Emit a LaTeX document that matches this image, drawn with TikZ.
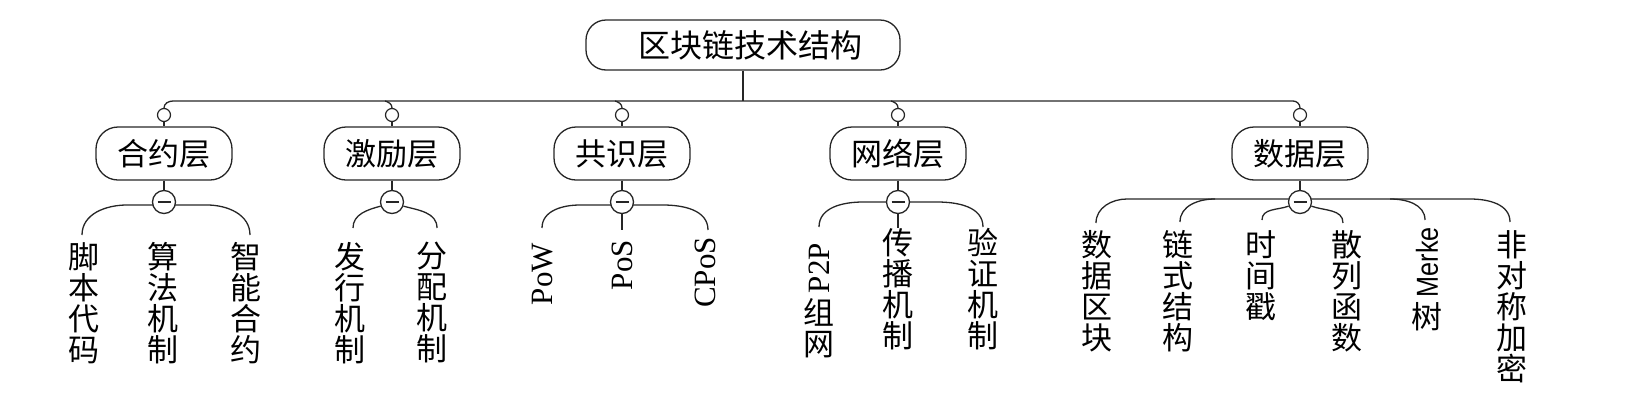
\documentclass[tikz,border=0pt]{standalone}
\usepackage{fontspec}
\usepackage{graphicx}
\setmainfont{Liberation Serif}
\newfontfamily\cjk{Noto Sans CJK SC}
\newfontfamily\lat{Liberation Serif}
\newfontfamily\arialf{Liberation Sans}
\usetikzlibrary{backgrounds}
\begin{document}
\begin{tikzpicture}[x=1pt,y=1pt,
  ln/.style={line width=1.3pt, draw=black!85},
  rootbox/.style={draw=black!85,line width=1.3pt,rounded corners=20pt,minimum width=314pt,minimum height=50pt,inner sep=0pt,font=\cjk\fontsize{32}{32}\selectfont},
  layerbox/.style={draw=black!85,line width=1.3pt,rounded corners=22pt,minimum width=136pt,minimum height=53pt,inner sep=0pt,font=\cjk\fontsize{31}{31}\selectfont},
  smallcirc/.style={circle,draw=black!85,line width=1.2pt,fill=white,minimum size=13pt,inner sep=0pt},
  minuscirc/.style={circle,draw=black!85,line width=1.3pt,fill=white,minimum size=23pt,inner sep=0pt,
    path picture={\draw[line width=1.8pt,black!85] ([xshift=-6.5pt]path picture bounding box.center) -- ([xshift=6.5pt]path picture bounding box.center);}},
  leaf/.style={anchor=north,align=center,inner sep=0pt,font=\cjk\fontsize{31}{31}\selectfont}
]
\useasboundingbox (0,0) rectangle (1630,-413);

% root
\node[rootbox] (root) at (743,-45) {\hspace*{15pt}区块链技术结构};

% small circles
\node[smallcirc] (s1) at (164,-115) {};
\node[smallcirc] (s2) at (392,-115) {};
\node[smallcirc] (s3) at (622,-115) {};
\node[smallcirc] (s4) at (898,-115) {};
\node[smallcirc] (s5) at (1300,-115) {};

% layers
\node[layerbox] (L1) at (164,-153.5) {合约层};
\node[layerbox] (L2) at (392,-153.5) {激励层};
\node[layerbox] (L3) at (622,-153.5) {共识层};
\node[layerbox] (L4) at (898,-153.5) {网络层};
\node[layerbox] (L5) at (1300,-153.5) {数据层};

% minus circles
\node[minuscirc] (m1) at (164,-202) {};
\node[minuscirc] (m2) at (392,-202) {};
\node[minuscirc] (m3) at (622,-202) {};
\node[minuscirc] (m4) at (898,-202) {};
\node[minuscirc] (m5) at (1300,-202) {};

% leaves
\node[leaf] (a1) at (84,-242) {脚\\本\\代\\码};
\node[leaf] (a2) at (163,-242) {算\\法\\机\\制};
\node[leaf] (a3) at (246,-242) {智\\能\\合\\约};
\node[leaf] (b1) at (350,-242) {发\\行\\机\\制};
\node[leaf] (b2) at (432,-242) {分\\配\\机\\制};
\node[leaf] (c1) at (543,-243) {\rotatebox{90}{\lat PoW}};
\node[leaf] (c2) at (622,-240) {\rotatebox{90}{\lat PoS}};
\node[leaf] (c3) at (705,-237) {\rotatebox{90}{\lat CPoS}};
\node[leaf] (d1) at (819,-243) {\rotatebox{90}{\lat P2P}\\组\\网};
\node[leaf] (d2) at (898,-228) {传\\播\\机\\制};
\node[leaf] (d3) at (983,-228) {验\\证\\机\\制};
\node[leaf] (e1) at (1097,-230) {数\\据\\区\\块};
\node[leaf] (e2) at (1178,-230) {链\\式\\结\\构};
\node[leaf] (e3) at (1261,-230) {时\\间\\戳};
\node[leaf] (e4) at (1347,-230) {散\\列\\函\\数};
\node[leaf] (e5) at (1427,-227) {\rotatebox{90}{\resizebox{70pt}{22pt}{\arialf Merke}}\\树};
\node[leaf] (e6) at (1512,-230) {非\\对\\称\\加\\密};

% free ends of connectors
\coordinate (barL) at (173,-101);
\coordinate (barR) at (1293,-101);
\coordinate (h2) at (385,-101);
\coordinate (h3) at (615,-101);
\coordinate (h4) at (891,-101);
\coordinate (a1t) at (82,-235);
\coordinate (a3t) at (250,-235);
\coordinate (b1t) at (353,-228);
\coordinate (b2t) at (437,-228);
\coordinate (c1t) at (542,-228);
\coordinate (c3t) at (708,-230);
\coordinate (d1t) at (819,-227);
\coordinate (d3t) at (983,-227);
\coordinate (e1t) at (1096,-223);
\coordinate (e2t) at (1180,-222);
\coordinate (e3t) at (1262,-220);
\coordinate (e4t) at (1343,-223);
\coordinate (e5t) at (1425,-220);
\coordinate (e6t) at (1510,-222);
\coordinate (e2b) at (1215,-199);
\coordinate (e5b) at (1390,-199);

\begin{scope}[on background layer]
% top bar
\draw[ln] (root.south) -- (root.south |- barL);
\draw[ln] (s1.north) to[out=90,in=180] (barL) -- (barR) to[out=0,in=90] (s5.north);
\draw[ln] (h2) to[out=-15,in=90] (s2.north);
\draw[ln] (h3) to[out=-15,in=90] (s3.north);
\draw[ln] (h4) to[out=-15,in=90] (s4.north);
% verticals
\foreach \i in {1,...,5}{
  \draw[ln] (s\i.south) -- (L\i.north);
  \draw[ln] (L\i.south) -- (m\i.north);
}
% branches
\draw[ln] (a1t) to[out=90,in=180] ++(45,30) -- (207,-205) to[out=0,in=90] (a3t);
\draw[ln] (b1t) to[out=90,in=195] (m2.200);
\draw[ln] (m2.-20) to[out=-15,in=90] (b2t);
\draw[ln] (c1t) to[out=90,in=180] ++(38,23) -- (663,-205) to[out=0,in=90] (c3t);
\draw[ln] (m3.south) -- ([yshift=10pt]c2.north);
\draw[ln] (d1t) to[out=90,in=180] ++(44,25) -- (937,-202) to[out=0,in=90] (d3t);
\draw[ln] (m4.south) -- (m4.south |- d2.north);
\draw[ln] (e1t) to[out=90,in=180] ++(31,24) -- (1470,-199) to[out=0,in=90] (e6t);
\draw[ln] (e2b) to[out=180,in=90] (e2t);
\draw[ln] (m5.200) to[out=200,in=90] (e3t);
\draw[ln] (m5.-20) to[out=-20,in=90] (e4t);
\draw[ln] (e5b) to[out=0,in=90] (e5t);
\end{scope}
\end{tikzpicture}
\end{document}
